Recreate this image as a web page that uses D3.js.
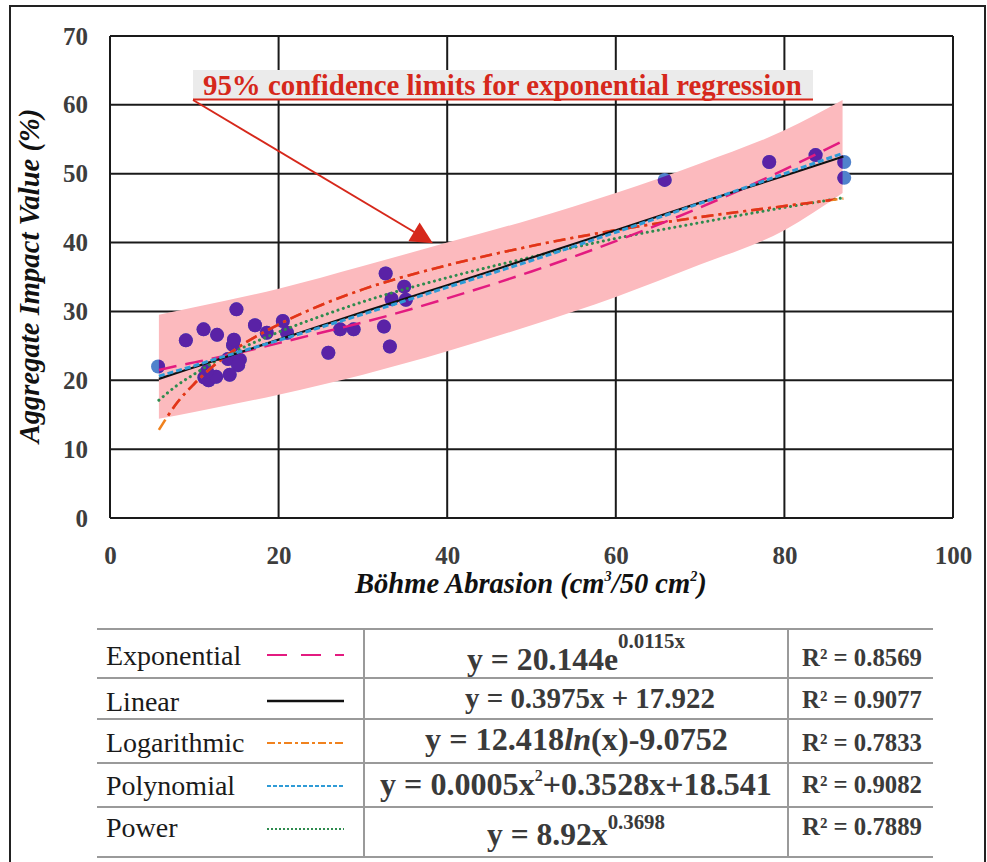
<!DOCTYPE html>
<html>
<head>
<meta charset="utf-8">
<script src="https://cdn.jsdelivr.net/npm/d3@7"></script>
<style>
  body { margin: 0; background: #fff; }
  svg text { font-family: "Liberation Serif", "Times New Roman", serif; }
</style>
</head>
<body>
<script>
// axis ticks
var xTicks = [0, 20, 40, 60, 80, 100];
var yTicks = [0, 10, 20, 30, 40, 50, 60, 70];

// measured points (Böhme abrasion, AIV)
var pointX = [5.7, 9.0, 11.1, 12.7, 15.0, 17.2, 18.6, 20.5, 21.0, 14.6, 14.7, 14.0, 15.4, 15.2, 11.2, 11.7, 12.6, 14.2, 11.5,
              25.9, 27.3, 28.9, 32.5, 33.2, 32.7, 34.9, 33.4, 35.1, 65.8, 78.2, 83.7, 87.1, 87.1];
var pointY = [22.0, 25.8, 27.4, 26.6, 30.3, 28.0, 26.9, 28.6, 26.9, 25.1, 25.9, 23.1, 23.0, 22.2, 20.4, 20.0, 20.5, 20.8, 21.3,
              24.0, 27.4, 27.4, 27.8, 24.9, 35.5, 33.6, 31.8, 31.7, 49.1, 51.7, 52.7, 51.7, 49.4];

// 95% confidence band
var bandX     = [5.8, 10, 20, 30, 40, 50, 60, 70, 80, 86.9];
var bandUpper = [29.5, 30.6, 33.3, 36.6, 40.0, 43.4, 47.2, 51.5, 56.3, 60.7];
var bandLower = [14.4, 15.4, 17.9, 20.8, 24.2, 28.0, 32.1, 36.8, 41.8, 47.2];

// trend lines, read along x
var trendX = [5.8, 8, 10, 12, 15, 20, 25, 30, 40, 50, 60, 70, 80, 87];
var expY  = [21.5, 22.1, 22.6, 23.1, 23.9, 25.4, 26.9, 28.4, 31.9, 35.8, 40.2, 45.1, 50.6, 54.8];
var linY  = [20.2, 21.1, 21.9, 22.7, 23.9, 25.9, 27.9, 29.9, 33.8, 37.8, 41.8, 45.8, 49.7, 52.5];
var logY  = [12.8, 16.8, 19.5, 21.8, 24.6, 28.1, 30.9, 33.2, 36.7, 39.5, 41.8, 43.7, 45.3, 46.4];
var polyY = [20.6, 21.4, 22.1, 22.9, 24.0, 25.8, 27.7, 29.6, 33.5, 37.4, 41.5, 45.7, 50.0, 53.0];
var powY  = [17.1, 19.3, 20.9, 22.4, 24.3, 27.0, 29.3, 31.4, 34.9, 37.9, 40.6, 42.9, 45.1, 46.5];

// legend table
var trendNames = ["Exponential", "Linear", "Logarithmic", "Polynomial", "Power"];
var r2Values = ["0.8569", "0.9077", "0.7833", "0.9082", "0.7889"];

var w = 987, h = 862;
var svg = d3.select("body").append("svg").attr("width", w).attr("height", h);

// outer frame
svg.append("rect").attr("x", 10).attr("y", 6).attr("width", 975).attr("height", 880)
  .attr("fill", "none").attr("stroke", "#222").attr("stroke-width", 2);

var xScale = d3.scaleLinear().domain([0, 100]).range([110, 953]);
var yScale = d3.scaleLinear().domain([0, 70]).range([518, 36]);

// grid
var grid = svg.append("g");
grid.selectAll(".vg").data(xTicks).enter().append("line")
  .attr("x1", function(d) { return xScale(d); }).attr("x2", function(d) { return xScale(d); })
  .attr("y1", yScale(0)).attr("y2", yScale(70))
  .attr("stroke", "#1a1a1a").attr("stroke-width", 2);
grid.selectAll(".hg").data(yTicks).enter().append("line")
  .attr("x1", xScale(0)).attr("x2", xScale(100))
  .attr("y1", function(d) { return yScale(d); }).attr("y2", function(d) { return yScale(d); })
  .attr("stroke", "#1a1a1a").attr("stroke-width", 2);

// tick labels via axes
var xAxis = svg.append("g").attr("transform", "translate(0," + yScale(0) + ")")
  .call(d3.axisBottom(xScale).tickValues(xTicks).tickSize(0).tickPadding(28));
var yAxis = svg.append("g").attr("transform", "translate(" + (xScale(0) - 22) + ",0)")
  .call(d3.axisLeft(yScale).tickValues(yTicks).tickSize(0).tickPadding(0));
[xAxis, yAxis].forEach(function(a) {
  a.select(".domain").remove();
  a.selectAll("text").attr("font-family", "Liberation Serif, serif").attr("font-size", 25)
    .attr("font-weight", "bold").attr("fill", "#3d3d3d");
});

// band
var band = d3.range(bandX.length).map(function(i) { return [bandX[i], bandLower[i], bandUpper[i]]; });
var area = d3.area().curve(d3.curveMonotoneX)
  .x(function(d) { return xScale(d[0]); })
  .y0(function(d) { return yScale(d[1]); })
  .y1(function(d) { return yScale(d[2]); });
svg.append("defs").append("clipPath").attr("id", "bandClip")
  .append("path").attr("d", area(band));
svg.append("path").attr("d", area(band)).attr("fill", "#fcbabe");

// points: blue outside band, purple where the band covers them
var pts = d3.range(pointX.length).map(function(i) { return [pointX[i], pointY[i]]; });
function drawPoints(g, color) {
  g.selectAll("circle").data(pts).enter().append("circle")
    .attr("cx", function(d) { return xScale(d[0]); })
    .attr("cy", function(d) { return yScale(d[1]); })
    .attr("r", 7).attr("fill", color);
}
drawPoints(svg.append("g"), "#5082cc");
drawPoints(svg.append("g").attr("clip-path", "url(#bandClip)"), "#5a22a6");

// trend lines
var line = d3.line().curve(d3.curveMonotoneX)
  .x(function(d) { return xScale(d[0]); })
  .y(function(d) { return yScale(d[1]); });
function series(ys) { return trendX.map(function(x, i) { return [x, ys[i]]; }); }

var styles = [
  { color: "#e31b80", width: 2.5, dash: "18,9" },
  { color: "#111111", width: 2.2, dash: null },
  { color: "#f0821e", width: 2.6, dash: "12,5,3,5" },
  { color: "#2f9bd6", width: 3, dash: "6,3" },
  { color: "#2e8b4e", width: 3, dash: "0.1,5.5", cap: "round" }
];
var trendY = [expY, linY, logY, polyY, powY];

function drawTrend(g, i, color) {
  g.append("path").attr("d", line(series(trendY[i])))
    .attr("fill", "none").attr("stroke", color)
    .attr("stroke-width", styles[i].width)
    .attr("stroke-dasharray", styles[i].dash)
    .attr("stroke-linecap", styles[i].cap || "butt");
}
var lines = svg.append("g");
drawTrend(lines, 4, styles[4].color);
drawTrend(lines, 2, styles[2].color);
drawTrend(lines.append("g").attr("clip-path", "url(#bandClip)"), 2, "#e2321d");
drawTrend(lines, 0, styles[0].color);
drawTrend(lines, 1, styles[1].color);
drawTrend(lines, 3, styles[3].color);

// fit a text element to a given width
function fit(sel, target) {
  var fs = parseFloat(sel.attr("font-size"));
  var cur = sel.node().getComputedTextLength();
  sel.attr("font-size", fs * target / cur);
  return fs * target / cur;
}

// annotation
svg.append("rect").attr("x", 193).attr("y", 70).attr("width", 620).attr("height", 30).attr("fill", "#ebebeb");
var ann = svg.append("text").attr("x", 203).attr("y", 95)
  .attr("font-size", 28).attr("font-weight", "bold").attr("fill", "#d6281b")
  .text("95% confidence limits for exponential regression");
fit(ann, 599);
svg.append("line").attr("x1", 193).attr("x2", 813).attr("y1", 99.5).attr("y2", 99.5)
  .attr("stroke", "#d6281b").attr("stroke-width", 2);

svg.select("defs").append("marker").attr("id", "arrow")
  .attr("viewBox", "0 0 10 10").attr("refX", 9).attr("refY", 5)
  .attr("markerUnits", "userSpaceOnUse").attr("markerWidth", 28).attr("markerHeight", 22)
  .attr("orient", "auto")
  .append("path").attr("d", "M0,0 L10,5 L0,10 Z").attr("fill", "#d6281b");
svg.append("line").attr("x1", 193).attr("y1", 100).attr("x2", 431).attr("y2", 242)
  .attr("stroke", "#d6281b").attr("stroke-width", 2).attr("marker-end", "url(#arrow)");

// axis titles
var xt = svg.append("text").attr("x", 355).attr("y", 593)
  .attr("font-size", 27).attr("font-weight", "bold").attr("font-style", "italic").attr("fill", "#111");
xt.append("tspan").text("Böhme Abrasion (cm");
xt.append("tspan").attr("font-size", "0.5em").attr("dy", -12).text("3");
xt.append("tspan").attr("dy", 12).text("/50 cm");
xt.append("tspan").attr("font-size", "0.5em").attr("dy", -12).text("2");
xt.append("tspan").attr("dy", 12).text(")");
fit(xt, 352);

var yt = svg.append("text").attr("transform", "translate(39,276) rotate(-90)")
  .attr("text-anchor", "middle")
  .attr("font-size", 27).attr("font-weight", "bold").attr("font-style", "italic").attr("fill", "#111")
  .text("Aggregate Impact Value (%)");
fit(yt, 335);

// legend table
var rowLines = [629, 678, 719, 763, 807, 857];
var table = svg.append("g");
table.selectAll(".hl").data(rowLines).enter().append("line")
  .attr("x1", 97).attr("x2", 933)
  .attr("y1", function(d) { return d; }).attr("y2", function(d) { return d; })
  .attr("stroke", "#9a9a9a").attr("stroke-width", 2);
[364, 788].forEach(function(x) {
  table.append("line").attr("x1", x).attr("x2", x).attr("y1", 629).attr("y2", 857)
    .attr("stroke", "#9a9a9a").attr("stroke-width", 2);
});

var nameBase = [665, 711, 752, 795, 837];
var sampleY = [655, 701, 743, 786, 829];
var eqBase = [670, 708, 750, 795, 845];
var r2Base = [666, 708, 751, 793, 835];

trendNames.forEach(function(name, i) {
  table.append("text").attr("x", 106).attr("y", nameBase[i])
    .attr("font-size", 28).attr("fill", "#1a1a1a").text(name);
  table.append("line").attr("x1", 267).attr("x2", 344).attr("y1", sampleY[i]).attr("y2", sampleY[i])
    .attr("stroke", styles[i].color).attr("stroke-width", i == 1 ? 2.5 : 2.2)
    .attr("stroke-dasharray", i == 0 ? "20,14" : i == 2 ? "8,3,3,3" : i == 3 ? "4,2" : i == 4 ? "2,2" : null);
  var r = table.append("text").attr("x", 802).attr("y", r2Base[i])
    .attr("font-size", 24).attr("font-weight", "bold").attr("fill", "#3a3a3a")
    .text("R² = " + r2Values[i]);
  fit(r, 120);
});

// equations
var eqStart = [467, 465, 425, 380, 487];
var eqWidth = [218, 250, 303, 392, 178];
function eq(i) {
  return table.append("text").attr("x", eqStart[i]).attr("y", eqBase[i])
    .attr("font-size", 29).attr("font-weight", "bold").attr("fill", "#3a3a3a");
}
var e0 = eq(0);
e0.append("tspan").text("y = 20.144e");
var s0 = e0.append("tspan").attr("font-size", "0.66em").text("0.0115x");
var fs0 = fit(e0, eqWidth[0]); s0.attr("dy", -0.7 * fs0);

var e1 = eq(1).text("y = 0.3975x + 17.922");
fit(e1, eqWidth[1]);

var e2 = eq(2);
e2.append("tspan").text("y = 12.418");
e2.append("tspan").attr("font-style", "italic").text("ln");
e2.append("tspan").text("(x)-9.0752");
fit(e2, eqWidth[2]);

var e3 = eq(3);
e3.append("tspan").text("y = 0.0005x");
var s3 = e3.append("tspan").attr("font-size", "0.5em").text("2");
var s3b = e3.append("tspan").text("+0.3528x+18.541");
var fs3 = fit(e3, eqWidth[3]); s3.attr("dy", -0.45 * fs3); s3b.attr("dy", 0.45 * fs3);

var e4 = eq(4);
e4.append("tspan").text("y = 8.92x");
var s4 = e4.append("tspan").attr("font-size", "0.66em").text("0.3698");
var fs4 = fit(e4, eqWidth[4]); s4.attr("dy", -0.52 * fs4);
</script>
</body>
</html>
